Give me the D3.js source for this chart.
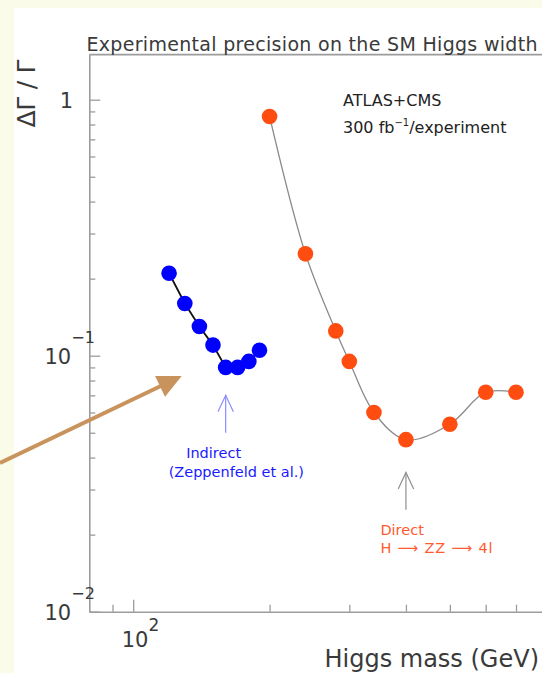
<!DOCTYPE html>
<html>
<head>
<meta charset="utf-8">
<script src="https://cdn.jsdelivr.net/npm/d3@7"></script>
<style>
  html, body { margin: 0; padding: 0; background: #fbfbe9; }
  svg { display: block; }
</style>
</head>
<body>
<svg id="chart" width="542" height="673"></svg>
<script>
// Indirect determination (Zeppenfeld et al.), relative width precision vs Higgs mass
const indirectMass = [120, 130, 140, 150, 160, 170, 180, 190];
const indirectPrecision = [0.21, 0.16, 0.13, 0.11, 0.09, 0.09, 0.095, 0.105];

// Direct measurement, H -> ZZ -> 4l
const directMass = [200, 240, 280, 300, 340, 400, 500, 600, 700];
const directPrecision = [0.86, 0.25, 0.125, 0.095, 0.06, 0.047, 0.054, 0.072, 0.072];

// Axis ticks and labels
const xMajorTicks = [100];
const xMinorTicks = [90, 200, 300, 400, 500, 600, 700, 800, 900];
const xTickBase = ["10"];
const xTickExp = ["2"];
const yMajorTicks = [1, 0.1, 0.01];
const yMinorTicks = [0.02, 0.03, 0.04, 0.05, 0.06, 0.07, 0.08, 0.09,
                     0.2, 0.3, 0.4, 0.5, 0.6, 0.7, 0.8, 0.9];
const yTickBase = ["1", "10", "10"];
const yTickExp = ["", "\u22121", "\u22122"];

// Annotation anchors (mass, precision range of the pointer arrows)
const indirectArrow = { mass: 160, from: 0.05, to: 0.07 };
const directArrow = { mass: 400, from: 0.025, to: 0.035 };

const W = 542, H = 673;
const FONT = "'DejaVu Sans', 'Liberation Sans', sans-serif";
const TEXT = "#3a3a3a";
const AXIS = "#9c9c9c";
const BLUE = "#0000ff";
const RED = "#ff4d12";

const svg = d3.select("#chart");

// page background and white canvas
svg.append("rect").attr("width", W).attr("height", H).attr("fill", "#fbfbe9");
svg.append("rect").attr("x", 14).attr("y", 8).attr("width", W - 14).attr("height", H - 8).attr("fill", "#ffffff");

// log scales: ~453 px per decade in mass, ~256 px per decade in precision
const x0 = 89.3, y0 = 611.7;
const x = d3.scaleLog().domain([80, 1000]).range([x0, x0 + 453 * Math.log10(1000 / 80)]);
const y = d3.scaleLog().domain([0.01, 1.5]).range([y0, y0 - 256 * Math.log10(1.5 / 0.01)]);

function styleAxis(g, keepDomain) {
  g.selectAll("line").attr("stroke", AXIS).attr("stroke-width", 1.3);
  g.select(".domain").attr("stroke", AXIS).attr("stroke-width", 1.6);
  if (!keepDomain) g.select(".domain").remove();
  g.selectAll("text").remove();
}

// x axis (ticks point inward)
svg.append("g").attr("transform", `translate(0,${y0})`)
  .call(d3.axisBottom(x).tickValues(xMinorTicks).tickSizeInner(-7).tickSizeOuter(0).tickFormat(""))
  .call(g => styleAxis(g, true));
svg.append("g").attr("transform", `translate(0,${y0})`)
  .call(d3.axisBottom(x).tickValues(xMajorTicks).tickSizeInner(-12).tickSizeOuter(0).tickFormat(""))
  .call(g => styleAxis(g, false));

// y axis (ticks point inward)
svg.append("g").attr("transform", `translate(${x0},0)`)
  .call(d3.axisLeft(y).tickValues(yMinorTicks).tickSizeInner(-6).tickSizeOuter(0).tickFormat(""))
  .call(g => styleAxis(g, true));
svg.append("g").attr("transform", `translate(${x0},0)`)
  .call(d3.axisLeft(y).tickValues(yMajorTicks).tickSizeInner(-11).tickSizeOuter(0).tickFormat(""))
  .call(g => styleAxis(g, false));

// top frame line
svg.append("line")
  .attr("x1", x0).attr("x2", W).attr("y1", y(1.5)).attr("y2", y(1.5))
  .attr("stroke", AXIS).attr("stroke-width", 1.6);

// y tick labels with powers of ten
yMajorTicks.forEach((v, i) => {
  const t = svg.append("text")
    .attr("font-family", FONT).attr("font-size", 21).attr("fill", TEXT)
    .attr("y", y(v) + 8.5);
  if (yTickExp[i] === "") {
    t.attr("x", 73).attr("text-anchor", "end").text(yTickBase[i]);
  } else {
    t.attr("x", 44.5);
    t.append("tspan").text(yTickBase[i]);
    t.append("tspan").attr("font-size", 16).attr("dy", -21).text(yTickExp[i]);
  }
});

// x tick labels
xMajorTicks.forEach((v, i) => {
  const t = svg.append("text")
    .attr("font-family", FONT).attr("font-size", 21).attr("fill", TEXT)
    .attr("x", x(v) - 11.5).attr("y", y0 + 35.6);
  t.append("tspan").text(xTickBase[i]);
  t.append("tspan").attr("font-size", 17).attr("dy", -16).text(xTickExp[i]);
});

// title and axis titles
svg.append("text")
  .attr("font-family", FONT).attr("font-size", 19).attr("fill", TEXT)
  .attr("x", 86.5).attr("y", 50.5)
  .attr("textLength", 451).attr("lengthAdjust", "spacing")
  .text("Experimental precision on the SM Higgs width");

svg.append("text")
  .attr("font-family", FONT).attr("font-size", 24).attr("fill", TEXT)
  .attr("text-anchor", "end")
  .attr("x", 539).attr("y", 666.5)
  .text("Higgs mass (GeV)");

svg.append("text")
  .attr("font-family", FONT).attr("font-size", 25).attr("fill", TEXT)
  .attr("text-anchor", "end")
  .attr("transform", "translate(34.5,59.5) rotate(-90)")
  .attr("textLength", 68).attr("lengthAdjust", "spacing")
  .text("\u0394\u0393 / \u0393");

// experiment label
svg.append("text")
  .attr("font-family", FONT).attr("font-size", 16).attr("fill", "#222")
  .attr("x", 343).attr("y", 105.5)
  .text("ATLAS+CMS");
const lum = svg.append("text")
  .attr("font-family", FONT).attr("font-size", 16).attr("fill", "#222")
  .attr("x", 343).attr("y", 133.3);
lum.append("tspan").text("300 fb");
lum.append("tspan").attr("font-size", 10).attr("dy", -7).text("\u22121");
lum.append("tspan").attr("dy", 7).text("/experiment");

// direct measurement: smooth curve through points
const curve = d3.line()
  .x(d => x(d[0])).y(d => y(d[1]))
  .curve(d3.curveCatmullRom.alpha(0.5));
const directData = directMass.map((m, i) => [m, directPrecision[i]]);
svg.append("path").datum(directData)
  .attr("d", curve).attr("fill", "none")
  .attr("stroke", "#8a8a8a").attr("stroke-width", 1.3);

// indirect determination: polyline through points
const indirectData = indirectMass.map((m, i) => [m, indirectPrecision[i]]);
svg.append("path").datum(indirectData)
  .attr("d", d3.line().x(d => x(d[0])).y(d => y(d[1])))
  .attr("fill", "none").attr("stroke", "#111").attr("stroke-width", 1.8);

svg.append("g").selectAll("circle").data(indirectData).join("circle")
  .attr("cx", d => x(d[0])).attr("cy", d => y(d[1])).attr("r", 7.8)
  .attr("fill", BLUE);

svg.append("g").selectAll("circle").data(directData).join("circle")
  .attr("cx", d => x(d[0])).attr("cy", d => y(d[1])).attr("r", 7.8)
  .attr("fill", RED);

// open pointer arrows
function pointer(a, color) {
  const px = x(a.mass), yb = y(a.from), yt = y(a.to);
  const g = svg.append("g").attr("stroke", color).attr("stroke-width", 1.2).attr("fill", "none");
  g.append("line").attr("x1", px).attr("x2", px).attr("y1", yb).attr("y2", yt);
  g.append("path").attr("d", `M${px - 7.7},${yt + 16.5}L${px},${yt}L${px + 7.7},${yt + 16.5}`);
  return { px, yb };
}

const ia = pointer(indirectArrow, "#8c8cff");
svg.append("text")
  .attr("font-family", FONT).attr("font-size", 14.5).attr("fill", "#1a1aff")
  .attr("x", ia.px - 39.5).attr("y", ia.yb + 25)
  .text("Indirect");
svg.append("text")
  .attr("font-family", FONT).attr("font-size", 14.5).attr("fill", "#1a1aff")
  .attr("x", ia.px - 57).attr("y", ia.yb + 44.5)
  .text("(Zeppenfeld et al.)");

const da = pointer(directArrow, "#8f8f8f");
svg.append("text")
  .attr("font-family", FONT).attr("font-size", 14.5).attr("fill", "#ff5a30")
  .attr("x", da.px - 25.5).attr("y", da.yb + 25)
  .text("Direct");
svg.append("text")
  .attr("font-family", FONT).attr("font-size", 14.5).attr("fill", "#ff5a30")
  .attr("x", da.px - 25.5).attr("y", da.yb + 42.7)
  .attr("textLength", 112).attr("lengthAdjust", "spacing")
  .text("H \u27F6 ZZ \u27F6 4l");

// large callout arrow pointing at the indirect points
(function () {
  const x1 = 0, y1 = 463, x2 = 181.7, y2 = 376;
  const len = Math.hypot(x2 - x1, y2 - y1);
  const ux = (x2 - x1) / len, uy = (y2 - y1) / len;
  const hl = 24, hw = 11.5;
  const bx = x2 - ux * hl, by = y2 - uy * hl;
  const col = "#c8935c";
  svg.append("line")
    .attr("x1", x1).attr("y1", y1).attr("x2", bx + ux * 2).attr("y2", by + uy * 2)
    .attr("stroke", col).attr("stroke-width", 4);
  svg.append("path")
    .attr("d", `M${x2},${y2}L${bx - uy * hw},${by + ux * hw}L${bx + uy * hw},${by - ux * hw}Z`)
    .attr("fill", col);
})();
</script>
</body>
</html>
